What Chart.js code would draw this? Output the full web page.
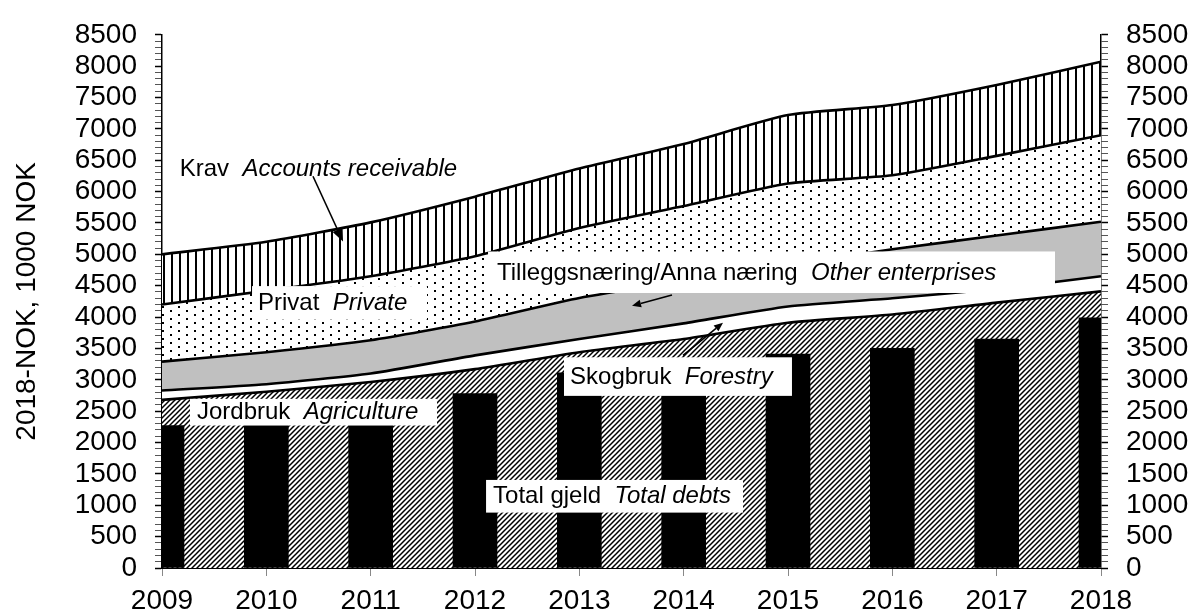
<!DOCTYPE html>
<html>
<head>
<meta charset="utf-8">
<script src="https://cdn.jsdelivr.net/npm/chart.js@4/dist/chart.umd.min.js"></script>
<style>
  html, body { margin: 0; padding: 0; background: #fff; }
  canvas { display: block; }
</style>
</head>
<body>
<canvas id="debt-chart" width="1192" height="614"></canvas>
<script>
const years = [2009, 2010, 2011, 2012, 2013, 2014, 2015, 2016, 2017, 2018];

// stacked components, 1000 NOK (2018 value)
const jordbruk = [2680, 2810, 2965, 3170, 3440, 3650, 3910, 4040, 4230, 4410];
const skogbruk = [150, 120, 135, 220, 210, 250, 260, 260, 220, 240];
const tillegg  = [460, 510, 530, 540, 655, 670, 660, 780, 850, 870];
const privat   = [910, 980, 1020, 1040, 1115, 1200, 1300, 1180, 1270, 1380];
const krav     = [800, 780, 860, 950, 950, 990, 1090, 1120, 1130, 1170];

const totalGjeld = [2270, 2380, 2520, 2780, 3110, 3250, 3410, 3500, 3650, 3990];

const FONT = '"Liberation Sans", Arial, sans-serif';

// labels placed in data units (x = year, y = NOK)
const notes = [
    { plain: 'Krav', italic: 'Accounts receivable', x: 2009.17, y: 6355, box: null },
    { plain: 'Privat', italic: 'Private', x: 2009.92, y: 4226, box: [2009.863, 2011.54, 4494, 3958] },
    { plain: 'Tilleggsnæring/Anna næring', italic: 'Other enterprises', x: 2012.211, y: 4699, box: [2012.125, 2017.559, 5046, 4384] },
    { plain: 'Skogbruk', italic: 'Forestry', x: 2012.911, y: 3044, box: [2012.853, 2015.038, 3359, 2744] },
    { plain: 'Jordbruk', italic: 'Agriculture', x: 2009.335, y: 2476, box: [2009.268, 2011.636, 2697, 2271] },
    { plain: 'Total gjeld', italic: 'Total debts', x: 2012.173, y: 1135, box: [2012.106, 2014.569, 1404, 883] },
];

const arrows = [
    { from: [2010.447, 6245], to: [2010.735, 5204], head: 13 },
    { from: [2013.888, 4352], to: [2013.505, 4179], head: 9 },
    { from: [2013.994, 3391], to: [2014.377, 3911], head: 9 },
];

const canvas = document.getElementById('debt-chart');
const mainCtx = canvas.getContext('2d');

function makePattern(w, h, draw) {
    const c = document.createElement('canvas');
    c.width = w; c.height = h;
    const g = c.getContext('2d');
    g.fillStyle = '#fff';
    g.fillRect(0, 0, w, h);
    g.fillStyle = '#000';
    g.strokeStyle = '#000';
    draw(g);
    return mainCtx.createPattern(c, 'repeat');
}

const hatch = makePattern(5, 5, g => {
    g.lineWidth = 1.5;
    g.beginPath();
    g.moveTo(0, 5); g.lineTo(5, 0);
    g.moveTo(-1, 1); g.lineTo(1, -1);
    g.moveTo(4, 6); g.lineTo(6, 4);
    g.stroke();
});
const dots = makePattern(16, 8, g => {
    g.fillRect(2, 2, 2, 2);
    g.fillRect(10, 6, 2, 2);
});
const stripes = makePattern(8, 8, g => g.fillRect(3, 0, 2, 8));

function area(label, data, bg, fill) {
    return {
        type: 'line',
        label,
        data,
        stack: 'areas',
        order: 1,
        fill,
        backgroundColor: bg,
        borderColor: '#000',
        borderWidth: 2.6,
        pointRadius: 0,
        tension: 0.2,
    };
}

const tickColor = ctx => (ctx.tick && ctx.tick.value % 500 === 0 ? '#000' : '#555');
const tickLabel = v => (v % 500 === 0 ? String(v) : '');

function yScale(position, width) {
    return {
        position,
        stacked: true,
        min: 0,
        max: 8500,
        ticks: {
            stepSize: 100,
            autoSkip: false,
            padding: 18,
            color: '#000',
            font: { family: FONT, size: 28 },
            callback: tickLabel,
        },
        grid: {
            drawOnChartArea: false,
            tickLength: 7,
            tickColor,
            tickWidth: ctx => (ctx.tick && ctx.tick.value % 500 === 0 ? 1.5 : 1),
        },
        border: { color: '#000', width: 1.5 },
        afterFit: s => { s.width = width; },
    };
}

const notesPlugin = {
    id: 'notes',
    afterDraw(chart) {
        const { ctx, scales } = chart;
        const px = v => scales.x.getPixelForValue(v);
        const py = v => scales.y.getPixelForValue(v);
        ctx.save();
        notes.forEach(n => {
            if (n.box) {
                const [x0, x1, y0, y1] = n.box;
                ctx.fillStyle = '#fff';
                ctx.fillRect(px(x0), py(y0), px(x1) - px(x0), py(y1) - py(y0));
            }
            ctx.fillStyle = '#000';
            ctx.textBaseline = 'middle';
            ctx.font = `24px ${FONT}`;
            ctx.fillText(n.plain + '  ', px(n.x), py(n.y));
            const w = ctx.measureText(n.plain + '  ').width;
            ctx.font = `italic 24px ${FONT}`;
            ctx.fillText(n.italic, px(n.x) + w, py(n.y));
        });
        arrows.forEach(a => {
            const x0 = px(a.from[0]), y0 = py(a.from[1]);
            const x1 = px(a.to[0]), y1 = py(a.to[1]);
            const ang = Math.atan2(y1 - y0, x1 - x0);
            const h = a.head;
            const bx = x1 - h * Math.cos(ang), by = y1 - h * Math.sin(ang);
            ctx.strokeStyle = '#000';
            ctx.lineWidth = 1.6;
            ctx.beginPath();
            ctx.moveTo(x0, y0);
            ctx.lineTo(bx, by);
            ctx.stroke();
            ctx.beginPath();
            ctx.moveTo(x1, y1);
            ctx.lineTo(bx + h * 0.42 * Math.sin(ang), by - h * 0.42 * Math.cos(ang));
            ctx.lineTo(bx - h * 0.42 * Math.sin(ang), by + h * 0.42 * Math.cos(ang));
            ctx.closePath();
            ctx.fillStyle = '#000';
            ctx.fill();
        });
        ctx.restore();
    },
};

new Chart(mainCtx, {
    data: {
        labels: years,
        datasets: [
            area('Jordbruk', jordbruk, hatch, 'origin'),
            area('Skogbruk', skogbruk, '#fff', '-1'),
            area('Tilleggsnæring/Anna næring', tillegg, '#c0c0c0', '-1'),
            area('Privat', privat, dots, '-1'),
            area('Krav', krav, stripes, '-1'),
            {
                type: 'bar',
                label: 'Total gjeld',
                data: totalGjeld,
                stack: 'debt',
                order: 0,
                backgroundColor: '#000',
                borderWidth: 0,
                barThickness: 44,
                clip: 0,
            },
        ],
    },
    options: {
        responsive: false,
        animation: false,
        layout: { padding: { top: 29, left: 0, right: 0, bottom: 0 } },
        plugins: { legend: { display: false }, tooltip: { enabled: false } },
        scales: {
            x: {
                type: 'linear',
                min: 2009,
                max: 2018,
                offset: false,
                ticks: {
                    stepSize: 1,
                    autoSkip: false,
                    maxRotation: 0,
                    padding: 8,
                    color: '#000',
                    font: { family: FONT, size: 28 },
                    callback: v => String(v),
                },
                grid: { offset: false, drawOnChartArea: false, tickLength: 8, tickColor: '#888' },
                border: { color: '#000', width: 1 },
                afterFit: s => { s.height = 46; },
            },
            y: {
                ...yScale('left', 162),
                title: {
                    display: true,
                    text: '2018-NOK, 1000 NOK',
                    color: '#000',
                    font: { family: FONT, size: 28 },
                    padding: { top: 10, bottom: 0 },
                },
            },
            y2: yScale('right', 91),
        },
    },
    plugins: [notesPlugin],
});
</script>
</body>
</html>
